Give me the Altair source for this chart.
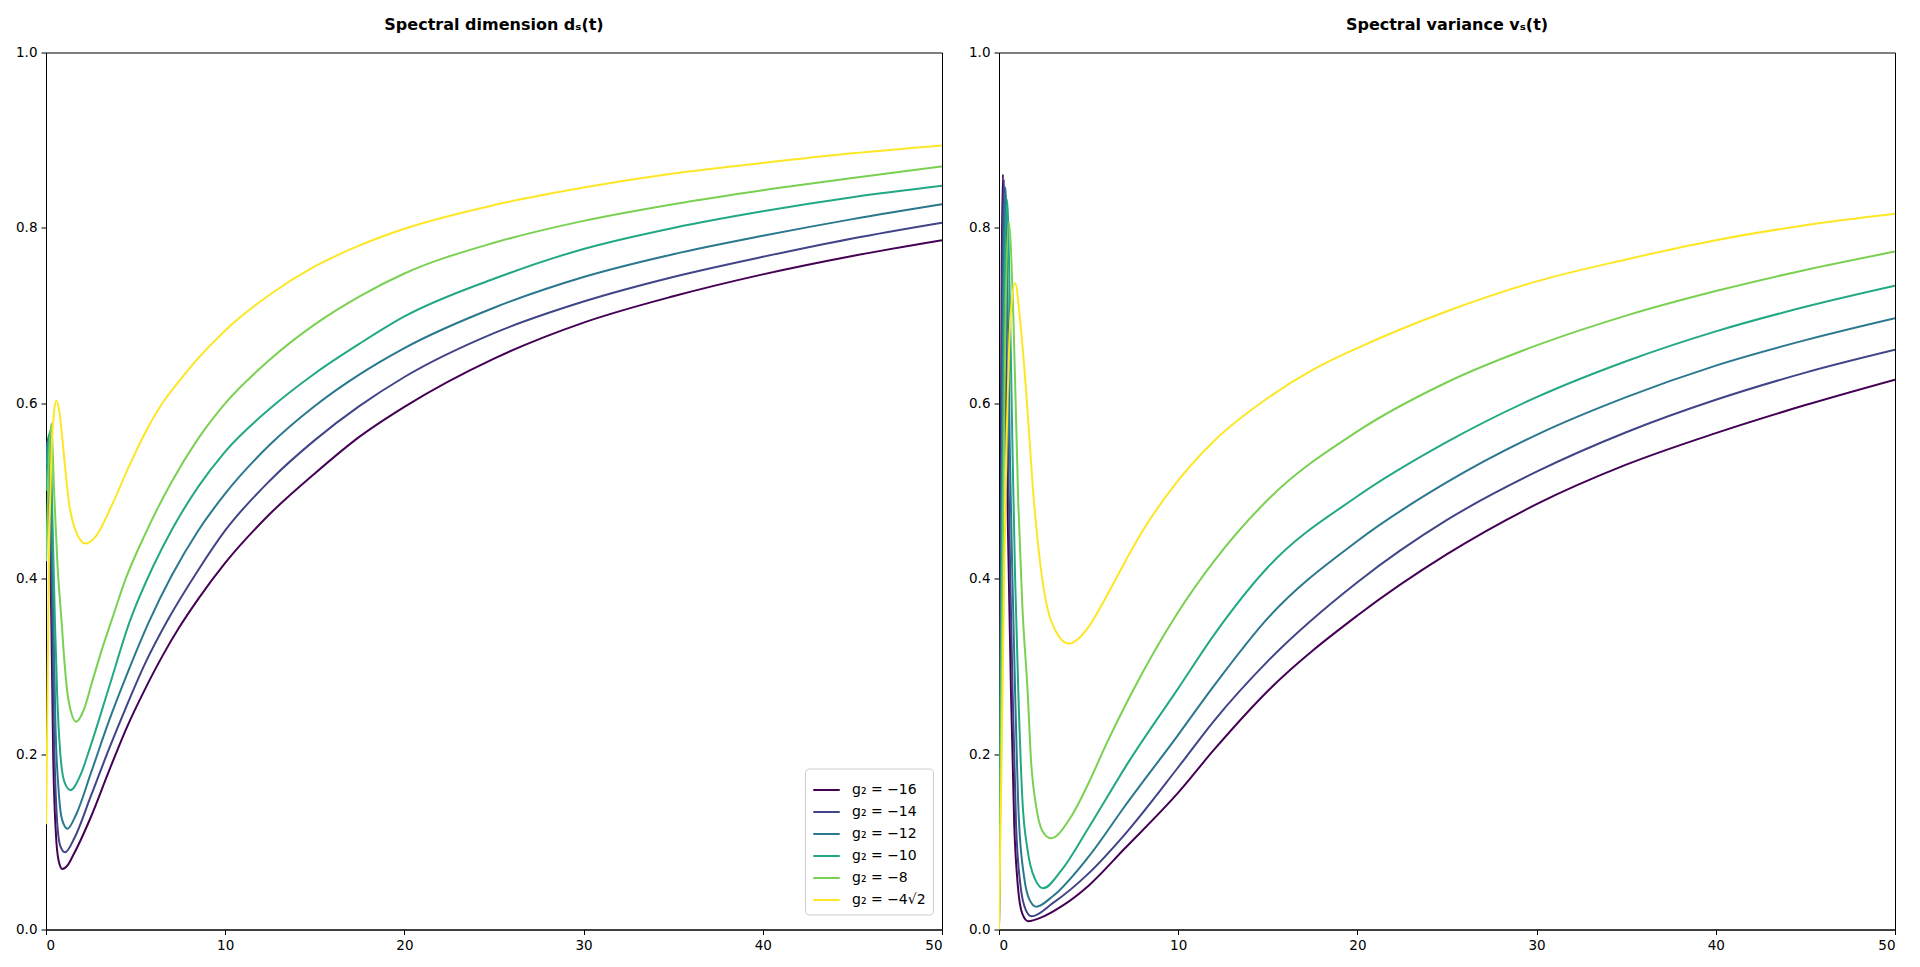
import altair as alt
import pandas as pd

# ---------------- data: spectral dimension d_s(t) ----------------
LABELS = ["g₂ = −16", "g₂ = −14", "g₂ = −12", "g₂ = −10", "g₂ = −8", "g₂ = −4√2"]
COLORS = ["#440154", "#414487", "#2a788e", "#22a884", "#7ad151", "#fde725"]

DS_T_16 = [0.01, 0.1, 0.2, 0.3, 0.4, 0.55, 0.7, 0.91, 1.2, 1.5, 2.5, 3.5, 4.5, 5.5, 6.5, 7.42, 8.5, 10, 12.5, 15, 17.5, 20, 25, 30, 35, 40, 45, 50]
DS_V_16 = [0.55, 0.558, 0.47, 0.35, 0.2, 0.11, 0.079, 0.069, 0.073, 0.084, 0.128, 0.18, 0.23, 0.273, 0.312, 0.344, 0.377, 0.418, 0.474, 0.52, 0.562, 0.596, 0.651, 0.692, 0.722, 0.747, 0.768, 0.786]

DS_T_14 = [0.01, 0.13, 0.25, 0.35, 0.45, 0.6, 0.8, 1.06, 1.6, 2.5, 3.5, 4.5, 5.5, 6.77, 8.5, 10, 12.5, 15, 17.5, 20, 25, 30, 35, 40, 45, 50]
DS_V_14 = [0.545, 0.56, 0.46, 0.35, 0.22, 0.13, 0.095, 0.088, 0.105, 0.152, 0.205, 0.255, 0.302, 0.352, 0.41, 0.455, 0.512, 0.558, 0.597, 0.63, 0.68, 0.716, 0.744, 0.767, 0.788, 0.806]

DS_T_12 = [0.01, 0.17, 0.3, 0.42, 0.52, 0.7, 0.9, 1.2, 1.7, 2.5, 3.5, 4.5, 5.75, 7, 8.5, 10, 12.5, 15, 17.5, 20, 25, 30, 35, 40, 45, 50]
DS_V_12 = [0.53, 0.564, 0.46, 0.35, 0.24, 0.16, 0.125, 0.115, 0.132, 0.178, 0.237, 0.29, 0.351, 0.403, 0.455, 0.497, 0.553, 0.597, 0.633, 0.663, 0.709, 0.744, 0.77, 0.791, 0.81, 0.827]

DS_T_10 = [0.01, 0.22, 0.37, 0.5, 0.62, 0.8, 1.05, 1.38, 1.9, 2.5, 3.5, 4.67, 6, 7, 8.5, 10, 12.5, 15, 17.5, 20, 25, 30, 35, 40, 45, 50]
DS_V_10 = [0.5, 0.568, 0.46, 0.35, 0.27, 0.2, 0.167, 0.159, 0.175, 0.21, 0.275, 0.351, 0.415, 0.455, 0.505, 0.545, 0.594, 0.634, 0.668, 0.699, 0.742, 0.776, 0.8, 0.819, 0.835, 0.848]

DS_T_8 = [0.01, 0.3, 0.45, 0.63, 0.87, 1.05, 1.25, 1.69, 2.1, 2.57, 3.13, 3.67, 4.45, 5.56, 7, 8.5, 10, 12.5, 15, 17.5, 20, 25, 30, 35, 40, 45, 50]
DS_V_8 = [0.42, 0.577, 0.5, 0.42, 0.351, 0.3, 0.262, 0.237, 0.25, 0.282, 0.32, 0.353, 0.4, 0.452, 0.51, 0.56, 0.6, 0.65, 0.69, 0.722, 0.748, 0.783, 0.808, 0.827, 0.843, 0.857, 0.87]

DS_T_4R2 = [0.01, 0.15, 0.3, 0.45, 0.58, 0.75, 0.91, 1.1, 1.28, 1.65, 2.2, 2.77, 3.7, 4.63, 5.5, 6.49, 7.5, 8.35, 10, 12.5, 15, 17.5, 20, 25, 30, 35, 40, 45, 50]
DS_V_4R2 = [0.12, 0.4, 0.54, 0.59, 0.603, 0.59, 0.56, 0.52, 0.487, 0.455, 0.44, 0.448, 0.485, 0.528, 0.565, 0.6, 0.627, 0.648, 0.683, 0.724, 0.756, 0.78, 0.799, 0.826, 0.846, 0.862, 0.874, 0.885, 0.894]

# ---------------- data: spectral variance v_s(t) ----------------
VS_T_16 = [0, 0.08, 0.15, 0.22, 0.32, 0.42, 0.55, 0.67, 0.85, 1.05, 1.3, 1.62, 2.5, 3.46, 5, 7, 10, 12, 15, 20, 25, 30, 35, 40, 45, 50]
VS_V_16 = [0, 0.4, 0.75, 0.861, 0.72, 0.55, 0.4, 0.27, 0.12, 0.05, 0.018, 0.0095, 0.015, 0.026, 0.05, 0.092, 0.156, 0.205, 0.272, 0.358, 0.428, 0.485, 0.53, 0.566, 0.598, 0.627]

VS_T_14 = [0, 0.1, 0.18, 0.28, 0.38, 0.5, 0.63, 0.76, 0.95, 1.2, 1.5, 1.81, 3, 5, 7, 10, 12, 15, 20, 25, 30, 35, 40, 45, 50]
VS_V_14 = [0, 0.4, 0.74, 0.855, 0.72, 0.55, 0.4, 0.27, 0.12, 0.05, 0.022, 0.015, 0.03, 0.064, 0.108, 0.185, 0.238, 0.306, 0.396, 0.467, 0.522, 0.567, 0.604, 0.635, 0.661]

VS_T_12 = [0, 0.12, 0.24, 0.36, 0.48, 0.6, 0.75, 0.9, 1.1, 1.4, 1.7, 2.07, 3, 5, 7, 10, 12, 15, 20, 25, 30, 35, 40, 45, 50]
VS_V_12 = [0, 0.4, 0.74, 0.846, 0.72, 0.55, 0.4, 0.27, 0.13, 0.06, 0.034, 0.026, 0.038, 0.083, 0.14, 0.222, 0.278, 0.355, 0.443, 0.51, 0.564, 0.607, 0.643, 0.672, 0.697]

VS_T_10 = [0, 0.15, 0.3, 0.45, 0.6, 0.75, 0.9, 1.08, 1.3, 1.6, 2.0, 2.46, 3.5, 5, 7.2, 10, 12, 15, 20, 25, 30, 35, 40, 45, 50]
VS_V_10 = [0, 0.4, 0.72, 0.832, 0.72, 0.55, 0.4, 0.27, 0.15, 0.09, 0.058, 0.047, 0.068, 0.116, 0.19, 0.275, 0.336, 0.413, 0.494, 0.556, 0.607, 0.648, 0.682, 0.71, 0.734]

VS_T_8 = [0, 0.2, 0.38, 0.55, 0.8, 1.07, 1.3, 1.6, 1.78, 2.06, 2.43, 2.9, 4.0, 5, 6, 7.36, 10, 12, 15, 20, 25, 30, 35, 40, 45, 50]
VS_V_8 = [0, 0.4, 0.72, 0.806, 0.7, 0.49, 0.37, 0.271, 0.195, 0.142, 0.112, 0.104, 0.128, 0.167, 0.212, 0.268, 0.362, 0.42, 0.49, 0.568, 0.624, 0.666, 0.7, 0.728, 0.752, 0.773]

VS_T_4R2 = [0, 0.15, 0.3, 0.45, 0.65, 0.9, 1.2, 1.55, 1.88, 2.2, 2.69, 3.17, 3.5, 3.9, 4.4, 5, 6, 7, 8, 10, 12, 15, 17.5, 20, 25, 30, 35, 40, 45, 50]
VS_V_4R2 = [0, 0.2, 0.42, 0.58, 0.7, 0.737, 0.69, 0.604, 0.506, 0.435, 0.367, 0.34, 0.33, 0.326, 0.331, 0.345, 0.38, 0.418, 0.454, 0.512, 0.557, 0.606, 0.638, 0.663, 0.705, 0.739, 0.764, 0.786, 0.803, 0.816]

DS_SERIES = [(DS_T_16, DS_V_16), (DS_T_14, DS_V_14), (DS_T_12, DS_V_12),
             (DS_T_10, DS_V_10), (DS_T_8, DS_V_8), (DS_T_4R2, DS_V_4R2)]
VS_SERIES = [(VS_T_16, VS_V_16), (VS_T_14, VS_V_14), (VS_T_12, VS_V_12),
             (VS_T_10, VS_V_10), (VS_T_8, VS_V_8), (VS_T_4R2, VS_V_4R2)]


def frame(series):
    rows = []
    for k, (ts, vs) in enumerate(series):
        for t, v in zip(ts, vs):
            rows.append({"t": t, "v": v, "series": LABELS[k], "order": k})
    return pd.DataFrame(rows)


df_ds = frame(DS_SERIES)
df_vs = frame(VS_SERIES)

FONT = "DejaVu Sans"
color_scale = alt.Scale(domain=LABELS, range=COLORS)

x_enc = alt.X("t:Q", title=None,
              scale=alt.Scale(domain=[0, 50], nice=False, zero=False),
              axis=alt.Axis(values=[0, 10, 20, 30, 40, 50], format="d", grid=False))
y_enc = alt.Y("v:Q", title=None,
              scale=alt.Scale(domain=[0, 1], nice=False),
              axis=alt.Axis(values=[0, 0.2, 0.4, 0.6, 0.8, 1.0], format=".1f", grid=False))

W, H = 896, 877

left = alt.Chart(df_ds).mark_line(interpolate="monotone", strokeWidth=2, clip=True).encode(
    x=x_enc, y=y_enc,
    color=alt.Color("series:N", scale=color_scale, sort=LABELS,
                    legend=alt.Legend(orient="none", legendX=759, legendY=716, title=None,
                                      symbolType="stroke", symbolStrokeWidth=2, symbolSize=700,
                                      labelFontSize=14, labelFont=FONT, labelColor="black",
                                      fillColor="white", strokeColor="#cccccc", cornerRadius=4,
                                      padding=7, rowPadding=-1.5, labelOffset=11)),
    order=alt.Order("order:Q"),
).properties(
    width=W, height=H,
    title=alt.TitleParams("Spectral dimension dₛ(t)", fontSize=16, fontWeight="bold",
                          font=FONT, offset=12.5, color="black"),
)

right = alt.Chart(df_vs).mark_line(interpolate="monotone", strokeWidth=2, clip=True).encode(
    x=x_enc, y=y_enc,
    color=alt.Color("series:N", scale=color_scale, sort=LABELS, legend=None),
    order=alt.Order("order:Q"),
).properties(
    width=W, height=H,
    title=alt.TitleParams("Spectral variance vₛ(t)", fontSize=16, fontWeight="bold",
                          font=FONT, offset=12.5, color="black"),
)

chart = alt.hconcat(left, right, spacing=25).resolve_legend(color="independent").properties(
    padding={"left": 7, "top": 8.5, "right": 5, "bottom": 5},
    background="white",
).configure_view(
    stroke="black", strokeWidth=1
).configure_axis(
    grid=False, domainColor="black", tickColor="black", labelColor="black",
    labelFont=FONT, labelFontSize=13.5, tickSize=5, labelPadding=4, domainWidth=1
)

chart.save("out.html", embed_options={"renderer": "svg", "actions": False})
